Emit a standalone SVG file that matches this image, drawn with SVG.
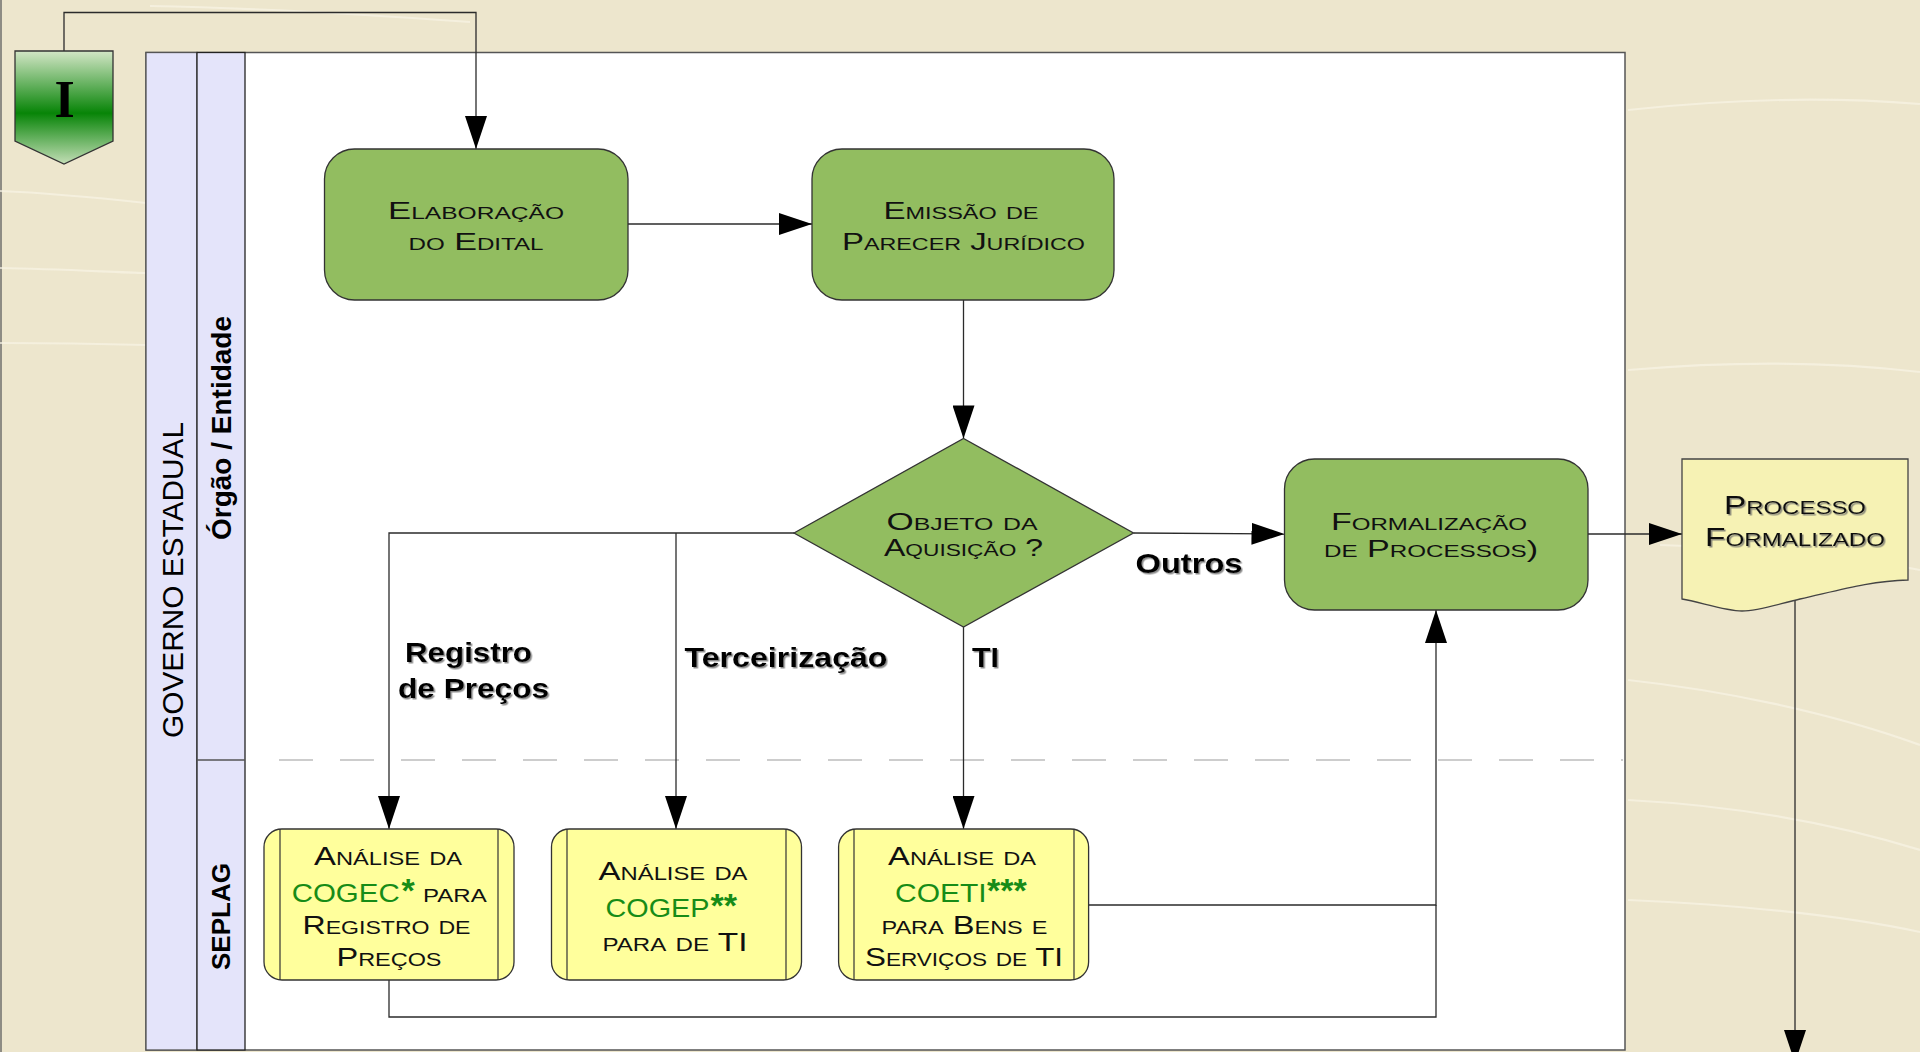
<svg xmlns="http://www.w3.org/2000/svg" width="1920" height="1052" viewBox="0 0 1920 1052">
<defs>
<style>
.bg{fill:#EDE6CD}
.streak{fill:none;stroke:#F8F4E6;stroke-width:2.2;opacity:.7}
.conn{fill:none;stroke:#2b2b2b;stroke-width:1.3}
.proc{fill:#92BD60;stroke:#333;stroke-width:1.3}
.ybox{fill:#FFFF9C;stroke:#333;stroke-width:1.3}
.inner{stroke:#333;stroke-width:1.2}
.sc{font-family:"Liberation Sans",Arial,sans-serif;font-variant:small-caps;fill:#111;text-anchor:middle}
.t20{font-size:24px}
.t25{font-size:25px}
.t24{font-size:25px}
.grn{fill:#178C17;font-variant:normal}
.ast{fill:#178C17;font-weight:bold;font-size:34px;font-variant:normal}
.lbl{font-family:"Liberation Sans",Arial,sans-serif;font-weight:bold;font-size:28px;fill:#000;filter:url(#sh)}
.lane{font-family:"Liberation Sans",Arial,sans-serif;fill:#000;text-anchor:middle}
</style>
<linearGradient id="gI" x1="0" y1="0" x2="0" y2="1">
<stop offset="0" stop-color="#D3E6C6"/>
<stop offset="0.55" stop-color="#078407"/>
<stop offset="1" stop-color="#C3DEB6"/>
</linearGradient>
<filter id="sh" x="-10%" y="-20%" width="130%" height="150%">
<feDropShadow dx="1.5" dy="1.5" stdDeviation="0.6" flood-color="#666" flood-opacity="0.75"/>
</filter>
<marker id="ah" markerUnits="userSpaceOnUse" viewBox="0 0 34 22" markerWidth="34" markerHeight="22" refX="33" refY="11" orient="auto">
<path d="M0,0 L33,11 L0,22 Z" fill="#000"/>
</marker>
</defs>

<rect class="bg" x="0" y="0" width="1920" height="1052"/>
<rect x="0" y="0" width="2" height="1052" fill="#8e8c84"/>
<g id="background-streaks">
<path class="streak" d="M150,6 C260,8 360,14 470,22"/>
<path class="streak" d="M0,191 C50,193 100,198 146,203"/>
<path class="streak" d="M0,268 C60,269 110,272 146,273"/>
<path class="streak" d="M0,343 C60,343 110,344 146,345"/>
<path class="streak" d="M1628,110 C1720,100 1820,96 1920,104"/>
<path class="streak" d="M1628,370 C1720,362 1820,360 1920,372"/>
<path class="streak" d="M1660,545 C1760,548 1850,556 1920,570"/>
<path class="streak" d="M1628,680 C1720,690 1830,712 1920,745"/>
<path class="streak" d="M1628,800 C1740,806 1840,825 1920,850"/>
<path class="streak" d="M1628,900 C1740,905 1840,915 1920,932"/>
</g>

<g id="pool">
<rect x="146" y="52.5" width="1479" height="997.5" fill="#fff" stroke="#555" stroke-width="1.5"/>
<rect x="146" y="52.5" width="51" height="997.5" fill="#E4E4FA" stroke="#555" stroke-width="1.3"/>
<rect x="197" y="52.5" width="48" height="997.5" fill="#E4E4FA" stroke="#222" stroke-width="1.3"/>
<line x1="197" y1="760" x2="245" y2="760" stroke="#555" stroke-width="1.3"/>
<line x1="279" y1="760" x2="1623" y2="760" stroke="#BDBDBD" stroke-width="1.3" stroke-dasharray="34 27"/>
<text class="lane" font-size="30" transform="translate(182.5,580) rotate(-90)" textLength="316" lengthAdjust="spacingAndGlyphs">GOVERNO ESTADUAL</text>
<text class="lane" font-size="28" font-weight="bold" transform="translate(231,428) rotate(-90)" textLength="224" lengthAdjust="spacingAndGlyphs">Órgão / Entidade</text>
<text class="lane" font-size="26" font-weight="bold" transform="translate(230,916.5) rotate(-90)" textLength="107" lengthAdjust="spacingAndGlyphs">SEPLAG</text>
</g>

<g id="connectors">
<path class="conn" d="M64,51 V12.5 H476 V149" marker-end="url(#ah)"/>
<path class="conn" d="M628,224 H812" marker-end="url(#ah)"/>
<path class="conn" d="M963.5,300 V438.4" marker-end="url(#ah)"/>
<path class="conn" d="M1133.5,533 L1284.5,534" marker-end="url(#ah)"/>
<path class="conn" d="M1588,534 H1682" marker-end="url(#ah)"/>
<path class="conn" d="M1795,600 V1063" marker-end="url(#ah)"/>
<path class="conn" d="M794,533 H389 V829" marker-end="url(#ah)"/>
<path class="conn" d="M676,533 V829" marker-end="url(#ah)"/>
<path class="conn" d="M963.5,627 V829" marker-end="url(#ah)"/>
<path class="conn" d="M1088.6,905 H1436 V610" marker-end="url(#ah)"/>
<path class="conn" d="M389,980 V1017 H1436 V905"/>
<text class="lbl" x="405" y="661.5" textLength="127" lengthAdjust="spacingAndGlyphs">Registro</text>
<text class="lbl" x="398" y="698" textLength="151" lengthAdjust="spacingAndGlyphs">de Preços</text>
<text class="lbl" x="684.5" y="666.5" textLength="203" lengthAdjust="spacingAndGlyphs">Terceirização</text>
<text class="lbl" x="972" y="666.5" textLength="27" lengthAdjust="spacingAndGlyphs">TI</text>
<text class="lbl" x="1135.5" y="573" textLength="107" lengthAdjust="spacingAndGlyphs">Outros</text>
</g>

<g id="inicio">
<polygon points="15,51 113,51 113,141 64,164 15,141" fill="url(#gI)" stroke="#333" stroke-width="1.3"/>
<text x="64.5" y="117" font-family="'Liberation Serif','Times New Roman',serif" font-weight="bold" font-size="52" text-anchor="middle" fill="#000">I</text>
</g>

<g id="elaboracao">
<rect class="proc" x="324.5" y="149" width="303.5" height="151" rx="30"/>
<text class="sc t20" x="476" y="218.5" textLength="176" lengthAdjust="spacingAndGlyphs">Elaboração</text>
<text class="sc t20" x="476" y="250" textLength="135" lengthAdjust="spacingAndGlyphs">do Edital</text>
</g>

<g id="emissao">
<rect class="proc" x="812" y="149" width="302" height="151" rx="30"/>
<text class="sc t20" x="961" y="218.5" textLength="155" lengthAdjust="spacingAndGlyphs">Emissão de</text>
<text class="sc t20" x="963.5" y="250" textLength="243" lengthAdjust="spacingAndGlyphs">Parecer Jurídico</text>
</g>

<g id="objeto">
<polygon class="proc" points="794,533 963.5,438.4 1133.5,533 963.5,627"/>
<text class="sc t20" x="962" y="529.5" textLength="151" lengthAdjust="spacingAndGlyphs">Objeto da</text>
<text class="sc t20" x="963.5" y="556" textLength="159" lengthAdjust="spacingAndGlyphs">Aquisição ?</text>
</g>

<g id="formalizacao">
<rect class="proc" x="1284.5" y="459" width="303.5" height="151" rx="30"/>
<text class="sc t20" x="1429" y="530" textLength="196" lengthAdjust="spacingAndGlyphs">Formalização</text>
<text class="sc t20" x="1431" y="556.5" textLength="214" lengthAdjust="spacingAndGlyphs">de Processos)</text>
</g>

<g id="processo-formalizado">
<path d="M1682,459 H1908 V580 C1870,581 1840,590 1800,599 C1775,605 1758,611 1742,611 C1725,611 1700,602 1682,599 Z" fill="#F6F2B4" stroke="#444" stroke-width="1.3"/>
<text class="sc t24" x="1795" y="514" textLength="142" lengthAdjust="spacingAndGlyphs" filter="url(#sh)">Processo</text>
<text class="sc t24" x="1795" y="546" textLength="180" lengthAdjust="spacingAndGlyphs" filter="url(#sh)">Formalizado</text>
</g>

<g id="cogec">
<rect class="ybox" x="264" y="829" width="250" height="151" rx="18"/>
<line class="inner" x1="280" y1="829" x2="280" y2="980"/>
<line class="inner" x1="498" y1="829" x2="498" y2="980"/>
<text class="sc t25" x="388" y="865" textLength="148" lengthAdjust="spacingAndGlyphs">Análise da</text>
<text class="sc t25" y="901.7" style="text-anchor:start"><tspan class="grn" x="291.7" textLength="108" lengthAdjust="spacingAndGlyphs">COGEC</tspan><tspan class="ast" x="401.5">*</tspan><tspan x="423" textLength="63.7" lengthAdjust="spacingAndGlyphs">para</tspan></text>
<text class="sc t25" x="386.5" y="933.5" textLength="168" lengthAdjust="spacingAndGlyphs">Registro de</text>
<text class="sc t25" x="389" y="966" textLength="105" lengthAdjust="spacingAndGlyphs">Preços</text>
</g>

<g id="cogep">
<rect class="ybox" x="551.5" y="829" width="250" height="151" rx="18"/>
<line class="inner" x1="567" y1="829" x2="567" y2="980"/>
<line class="inner" x1="786" y1="829" x2="786" y2="980"/>
<text class="sc t25" x="673" y="880" textLength="149" lengthAdjust="spacingAndGlyphs">Análise da</text>
<text class="sc t25" y="917" style="text-anchor:start"><tspan class="grn" x="605.5" textLength="104" lengthAdjust="spacingAndGlyphs">COGEP</tspan><tspan class="ast" x="710.5">**</tspan></text>
<text class="sc t25" x="675" y="951" textLength="145" lengthAdjust="spacingAndGlyphs">para  de TI</text>
</g>

<g id="coeti">
<rect class="ybox" x="838.6" y="829" width="250" height="151" rx="18"/>
<line class="inner" x1="854" y1="829" x2="854" y2="980"/>
<line class="inner" x1="1074" y1="829" x2="1074" y2="980"/>
<text class="sc t25" x="962" y="865" textLength="148" lengthAdjust="spacingAndGlyphs">Análise da</text>
<text class="sc t25" y="901.7" style="text-anchor:start"><tspan class="grn" x="895" textLength="91.7" lengthAdjust="spacingAndGlyphs">COETI</tspan><tspan class="ast" x="987">***</tspan></text>
<text class="sc t25" x="964.5" y="934" textLength="166" lengthAdjust="spacingAndGlyphs">para Bens e</text>
<text class="sc t25" x="964" y="966" textLength="198" lengthAdjust="spacingAndGlyphs">Serviços de TI</text>
</g>
</svg>
